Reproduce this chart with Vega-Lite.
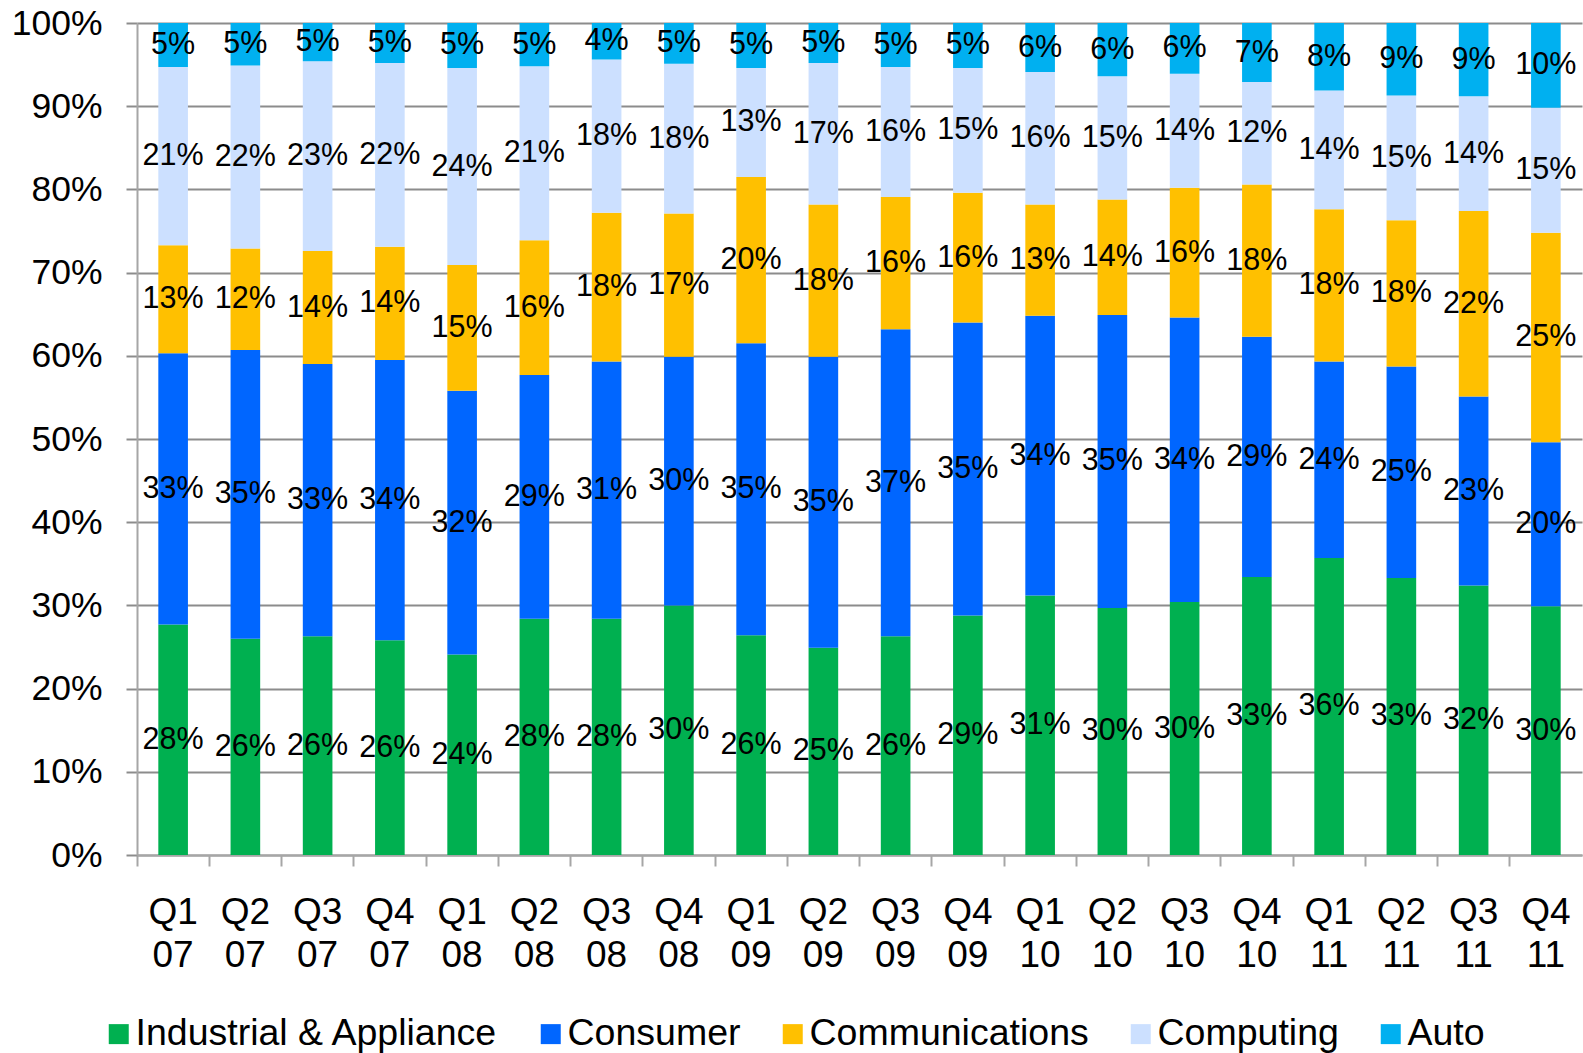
{
  "$schema": "https://vega.github.io/schema/vega-lite/v6.json",
  "width": 1445,
  "height": 832,
  "autosize": {"type": "none"},
  "padding": {"left": 137, "top": 23, "right": 1, "bottom": 198},
  "background": "white",
  "config": {
    "view": {"stroke": null},
    "font": "Liberation Sans",
    "axis": {"labelFont": "Liberation Sans", "labelColor": "#000000"},
    "legend": {"labelFont": "Liberation Sans", "labelColor": "#000000"}
  },
  "data": {
    "values": [
      {"q":"Q1 07","s":"Industrial & Appliance","v":0.277},{"q":"Q1 07","s":"Consumer","v":0.326},{"q":"Q1 07","s":"Communications","v":0.130},{"q":"Q1 07","s":"Computing","v":0.214},{"q":"Q1 07","s":"Auto","v":0.053},
      {"q":"Q2 07","s":"Industrial & Appliance","v":0.260},{"q":"Q2 07","s":"Consumer","v":0.347},{"q":"Q2 07","s":"Communications","v":0.122},{"q":"Q2 07","s":"Computing","v":0.220},{"q":"Q2 07","s":"Auto","v":0.051},
      {"q":"Q3 07","s":"Industrial & Appliance","v":0.263},{"q":"Q3 07","s":"Consumer","v":0.327},{"q":"Q3 07","s":"Communications","v":0.136},{"q":"Q3 07","s":"Computing","v":0.228},{"q":"Q3 07","s":"Auto","v":0.046},
      {"q":"Q4 07","s":"Industrial & Appliance","v":0.258},{"q":"Q4 07","s":"Consumer","v":0.337},{"q":"Q4 07","s":"Communications","v":0.136},{"q":"Q4 07","s":"Computing","v":0.221},{"q":"Q4 07","s":"Auto","v":0.048},
      {"q":"Q1 08","s":"Industrial & Appliance","v":0.241},{"q":"Q1 08","s":"Consumer","v":0.317},{"q":"Q1 08","s":"Communications","v":0.151},{"q":"Q1 08","s":"Computing","v":0.237},{"q":"Q1 08","s":"Auto","v":0.054},
      {"q":"Q2 08","s":"Industrial & Appliance","v":0.284},{"q":"Q2 08","s":"Consumer","v":0.293},{"q":"Q2 08","s":"Communications","v":0.162},{"q":"Q2 08","s":"Computing","v":0.209},{"q":"Q2 08","s":"Auto","v":0.052},
      {"q":"Q3 08","s":"Industrial & Appliance","v":0.284},{"q":"Q3 08","s":"Consumer","v":0.309},{"q":"Q3 08","s":"Communications","v":0.179},{"q":"Q3 08","s":"Computing","v":0.184},{"q":"Q3 08","s":"Auto","v":0.044},
      {"q":"Q4 08","s":"Industrial & Appliance","v":0.300},{"q":"Q4 08","s":"Consumer","v":0.299},{"q":"Q4 08","s":"Communications","v":0.172},{"q":"Q4 08","s":"Computing","v":0.180},{"q":"Q4 08","s":"Auto","v":0.049},
      {"q":"Q1 09","s":"Industrial & Appliance","v":0.264},{"q":"Q1 09","s":"Consumer","v":0.351},{"q":"Q1 09","s":"Communications","v":0.200},{"q":"Q1 09","s":"Computing","v":0.131},{"q":"Q1 09","s":"Auto","v":0.054},
      {"q":"Q2 09","s":"Industrial & Appliance","v":0.249},{"q":"Q2 09","s":"Consumer","v":0.350},{"q":"Q2 09","s":"Communications","v":0.183},{"q":"Q2 09","s":"Computing","v":0.170},{"q":"Q2 09","s":"Auto","v":0.048},
      {"q":"Q3 09","s":"Industrial & Appliance","v":0.263},{"q":"Q3 09","s":"Consumer","v":0.369},{"q":"Q3 09","s":"Communications","v":0.159},{"q":"Q3 09","s":"Computing","v":0.156},{"q":"Q3 09","s":"Auto","v":0.053},
      {"q":"Q4 09","s":"Industrial & Appliance","v":0.288},{"q":"Q4 09","s":"Consumer","v":0.352},{"q":"Q4 09","s":"Communications","v":0.156},{"q":"Q4 09","s":"Computing","v":0.150},{"q":"Q4 09","s":"Auto","v":0.054},
      {"q":"Q1 10","s":"Industrial & Appliance","v":0.312},{"q":"Q1 10","s":"Consumer","v":0.336},{"q":"Q1 10","s":"Communications","v":0.134},{"q":"Q1 10","s":"Computing","v":0.159},{"q":"Q1 10","s":"Auto","v":0.059},
      {"q":"Q2 10","s":"Industrial & Appliance","v":0.297},{"q":"Q2 10","s":"Consumer","v":0.352},{"q":"Q2 10","s":"Communications","v":0.139},{"q":"Q2 10","s":"Computing","v":0.148},{"q":"Q2 10","s":"Auto","v":0.064},
      {"q":"Q3 10","s":"Industrial & Appliance","v":0.304},{"q":"Q3 10","s":"Consumer","v":0.342},{"q":"Q3 10","s":"Communications","v":0.156},{"q":"Q3 10","s":"Computing","v":0.137},{"q":"Q3 10","s":"Auto","v":0.061},
      {"q":"Q4 10","s":"Industrial & Appliance","v":0.334},{"q":"Q4 10","s":"Consumer","v":0.289},{"q":"Q4 10","s":"Communications","v":0.183},{"q":"Q4 10","s":"Computing","v":0.123},{"q":"Q4 10","s":"Auto","v":0.071},
      {"q":"Q1 11","s":"Industrial & Appliance","v":0.357},{"q":"Q1 11","s":"Consumer","v":0.236},{"q":"Q1 11","s":"Communications","v":0.183},{"q":"Q1 11","s":"Computing","v":0.143},{"q":"Q1 11","s":"Auto","v":0.081},
      {"q":"Q2 11","s":"Industrial & Appliance","v":0.333},{"q":"Q2 11","s":"Consumer","v":0.254},{"q":"Q2 11","s":"Communications","v":0.176},{"q":"Q2 11","s":"Computing","v":0.150},{"q":"Q2 11","s":"Auto","v":0.087},
      {"q":"Q3 11","s":"Industrial & Appliance","v":0.324},{"q":"Q3 11","s":"Consumer","v":0.227},{"q":"Q3 11","s":"Communications","v":0.223},{"q":"Q3 11","s":"Computing","v":0.138},{"q":"Q3 11","s":"Auto","v":0.088},
      {"q":"Q4 11","s":"Industrial & Appliance","v":0.299},{"q":"Q4 11","s":"Consumer","v":0.197},{"q":"Q4 11","s":"Communications","v":0.252},{"q":"Q4 11","s":"Computing","v":0.150},{"q":"Q4 11","s":"Auto","v":0.102}
    ]
  },
  "transform": [
    {"calculate": "indexof(['Industrial & Appliance','Consumer','Communications','Computing','Auto'], datum.s)", "as": "k"},
    {"stack": "v", "groupby": ["q"], "sort": [{"field": "k", "order": "ascending"}], "as": ["y0", "y1"], "offset": "normalize"},
    {"calculate": "(datum.y0 + datum.y1) / 2", "as": "ym"}
  ],
  "encoding": {
    "x": {
      "field": "q", "type": "nominal", "sort": null,
      "scale": {"paddingInner": 0, "paddingOuter": 0},
      "axis": {
        "title": null, "bandPosition": 0, "labelOffset": 0, "labelAngle": 0, "labelAlign": "center",
        "labelExpr": "split(datum.label, ' ')", "labelFontSize": 37, "labelLineHeight": 43,
        "labelPadding": 28, "tickSize": 11, "tickWidth": 2, "tickColor": "#a6a6a6",
        "domainColor": "#a6a6a6", "domainWidth": 2, "grid": false, "labelBaseline": "top"
      }
    }
  },
  "layer": [
    {
      "mark": {"type": "bar", "width": {"band": 0.41}},
      "encoding": {
        "y": {
          "field": "y0", "type": "quantitative", "scale": {"domain": [0, 1], "nice": false},
          "axis": {
            "title": null, "format": ".0%", "values": [0,0.1,0.2,0.3,0.4,0.5,0.6,0.7,0.8,0.9,1.0],
            "labelFontSize": 35.5, "labelPadding": 24, "tickSize": 11, "tickWidth": 2, "tickColor": "#8c8c8c",
            "grid": true, "gridColor": "#8c8c8c", "gridWidth": 2,
            "domainColor": "#a6a6a6", "domainWidth": 2
          }
        },
        "y2": {"field": "y1"},
        "color": {
          "field": "s", "type": "nominal",
          "scale": {
            "domain": ["Industrial & Appliance", "Consumer", "Communications", "Computing", "Auto"],
            "range": ["#00B050", "#0066FF", "#FFC000", "#CCE0FF", "#00B0F0"]
          },
          "legend": {
            "title": null, "orient": "none", "direction": "horizontal",
            "legendX": -37, "legendY": 992,
            "symbolType": "square", "symbolSize": 400, "symbolStrokeWidth": 0, "symbolOpacity": 1,
            "labelFontSize": 37.5, "labelOffset": -2, "columnPadding": 33, "labelLimit": 600
          }
        }
      }
    },
    {
      "mark": {"type": "text", "fontSize": 30.5, "color": "#000000", "baseline": "middle", "align": "center"},
      "encoding": {
        "y": {"field": "ym", "type": "quantitative"},
        "text": {"field": "v", "type": "quantitative", "format": ".0%"}
      }
    }
  ]
}
